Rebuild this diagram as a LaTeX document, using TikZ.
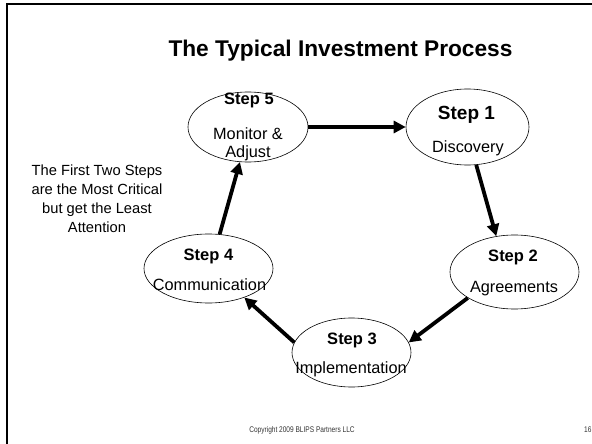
\documentclass[tikz,border=0pt]{standalone}
\usepackage{fontspec}
\setmainfont{Liberation Sans}
\usetikzlibrary{shapes.geometric,arrows.meta}

\begin{document}
\begin{tikzpicture}[x=1pt, y=-1pt,
        stepring/.style={draw, ellipse, line width=0.6pt, inner sep=0pt},
        stephead/.style={font=\fontsize{16.5}{18}\selectfont\bfseries, inner sep=0pt},
        stepbig/.style={font=\fontsize{19}{21}\selectfont\bfseries, inner sep=0pt},
        steptext/.style={font=\fontsize{16.3}{18}\selectfont, inner sep=0pt},
        flow/.style={line width=3.8pt, -{Triangle[length=12pt,width=12pt]}}]
    \useasboundingbox (0,0) rectangle (592,444);
    % slide frame
    \draw[line width=2.5pt] (7,450) -- (7,4) -- (600,4);
    \node[font=\fontsize{22.7}{26}\selectfont\bfseries] (title) at (340.5,51) {The Typical Investment Process};

    % the five steps
    \node[stepring, minimum width=120pt, minimum height=70pt] (s5) at (248,127) {};
    \node[stepring, minimum width=123pt, minimum height=76pt] (s1) at (467.5,127) {};
    \node[stepring, minimum width=129pt, minimum height=74pt] (s2) at (514.5,272) {};
    \node[stepring, minimum width=119pt, minimum height=69pt] (s3) at (351.5,352.5) {};
    \node[stepring, minimum width=129pt, minimum height=69pt] (s4) at (208.5,268.5) {};

    \node[stephead] (s5head) at (249,100) {Step 5};
    \node[steptext] (s5text) at (248,134) {Monitor \&};
    \node[steptext] (s5more) at (248,153) {Adjust};
    \node[stepbig] (s1head) at (466.5,115) {Step 1};
    \node[steptext] (s1text) at (468,148) {Discovery};
    \node[stephead] (s2head) at (513,257) {Step 2};
    \node[steptext] (s2text) at (514,289) {Agreements};
    \node[stephead] (s3head) at (352,340) {Step 3};
    \node[steptext] (s3text) at (351,369) {Implementation};
    \node[stephead] (s4head) at (208.5,256) {Step 4};
    \node[steptext] (s4text) at (209.5,285) {Communication};

    % arrows round the cycle
    \draw[flow] (s5) -- (s1);
    \draw[flow] (s1.-77) -- (s2.117);
    \draw[flow] (s2.209) -- (s3.10);
    \draw[flow] (s3.170) -- (s4.-39);
    \draw[flow] (s4.72) -- (s5.-103);

    \node[font=\fontsize{14.7}{19}\selectfont, align=center, inner sep=0pt] (note) at (97,199)
        {The First Two Steps\\are the Most Critical\\but get the Least\\Attention};

    % footer
    \node[font=\fontsize{8.2}{10}\selectfont, xscale=0.8, text=black!80] (copy) at (302,430) {Copyright 2009 BLIPS Partners LLC};
    \node[font=\fontsize{8.2}{10}\selectfont, xscale=0.8, text=black!80, anchor=west, inner sep=0pt] (page) at (584,430) {16};
\end{tikzpicture}
\end{document}
